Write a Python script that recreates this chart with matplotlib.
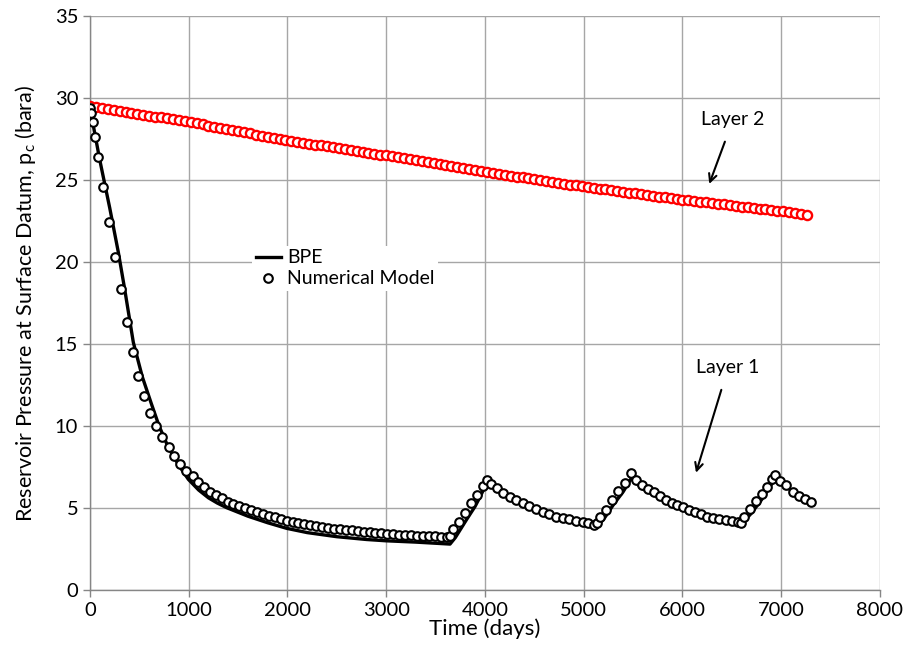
import matplotlib
matplotlib.use('Agg')
import matplotlib.pyplot as plt
import numpy as np

plt.rcParams['font.family'] = ['Lato', 'DejaVu Sans']
plt.rcParams['mathtext.default'] = 'regular'

# Layer 1 - BPE (line)
bpe1_t = [0, 100, 200, 287, 350, 439, 530, 625, 700, 793, 900, 996, 1100, 1200, 1290,
          1384, 1600, 1800, 1992, 2200, 2500, 2800, 3000, 3300, 3646, 3700, 3814,
          3900, 3960, 4023, 4100, 4287, 4500, 4658, 4900, 5110, 5200, 5300, 5400,
          5480, 5600, 5800, 5975, 6200, 6400, 6580, 6700, 6800, 6940, 7050, 7150, 7300]
bpe1_p = [29.4, 26.2, 23.3, 20.6, 18.4, 15.1, 13.0, 11.3, 10.0, 8.7, 7.6, 6.75, 6.1, 5.62, 5.3,
          5.02, 4.5, 4.1, 3.76, 3.5, 3.25, 3.08, 3.0, 2.92, 2.8, 3.2, 4.3,
          5.1, 5.8, 6.6, 6.2, 5.5, 4.85, 4.47, 4.1, 3.8, 4.3, 5.2, 6.0,
          6.8, 6.15, 5.5, 5.08, 4.6, 4.2, 3.9, 4.7, 5.5, 6.8, 6.3, 5.85, 5.3]

# Layer 1 - numerical model (circles)
num1_t = [0, 10, 34, 51, 78, 135, 192, 253, 314, 371, 432, 490, 547, 611, 668, 732,
          800, 854, 911, 972, 1040, 1097, 1158, 1215, 1276, 1333, 1394, 1451, 1511,
          1571, 1631, 1691, 1751, 1811, 1871, 1931, 1991, 2051, 2111, 2171, 2231,
          2291, 2351, 2411, 2471, 2531, 2591, 2651, 2711, 2771, 2831, 2891, 2951,
          3011, 3071, 3131, 3191, 3251, 3311, 3371, 3431, 3491, 3551, 3611, 3650,
          3680, 3740, 3797, 3858, 3922, 3983, 4017, 4057, 4118, 4186, 4253, 4314,
          4382, 4449, 4516, 4584, 4651, 4719, 4787, 4854, 4922, 4989, 5046, 5100,
          5130, 5165, 5225, 5283, 5350, 5420, 5480, 5529, 5587, 5654, 5715, 5772,
          5833, 5890, 5947, 6008, 6069, 6127, 6187, 6251, 6312, 6373, 6440, 6498,
          6565, 6590, 6623, 6684, 6744, 6802, 6853, 6903, 6937, 6987, 7048, 7116,
          7180, 7241, 7298]
num1_p = [29.4, 29.07, 28.55, 27.64, 26.42, 24.55, 22.42, 20.3, 18.33, 16.36, 14.49,
          13.05, 11.85, 10.81, 10.0, 9.35, 8.74, 8.19, 7.68, 7.28, 6.95, 6.6, 6.3,
          6.0, 5.79, 5.59, 5.39, 5.24, 5.1, 4.97, 4.85, 4.74, 4.63, 4.53, 4.43,
          4.33, 4.23, 4.15, 4.08, 4.01, 3.95, 3.89, 3.84, 3.79, 3.75, 3.71, 3.67,
          3.63, 3.59, 3.56, 3.52, 3.49, 3.45, 3.43, 3.40, 3.38, 3.36, 3.34, 3.32,
          3.31, 3.29, 3.28, 3.26, 3.25, 3.28, 3.7, 4.17, 4.67, 5.28, 5.79, 6.34,
          6.7, 6.46, 6.2, 5.93, 5.69, 5.49, 5.32, 5.12, 4.94, 4.78, 4.62, 4.47,
          4.37, 4.31, 4.23, 4.17, 4.1, 3.95, 4.1, 4.47, 4.88, 5.49, 6.04, 6.54,
          7.12, 6.7, 6.4, 6.16, 6.0, 5.73, 5.49, 5.32, 5.18, 5.04, 4.88, 4.76,
          4.62, 4.47, 4.41, 4.33, 4.27, 4.21, 4.17, 4.07, 4.47, 4.92, 5.43, 5.85,
          6.3, 6.75, 7.0, 6.65, 6.4, 6.0, 5.73, 5.55, 5.35]

# Layer 2 - BPE (line)
bpe2_t = [0, 1000, 2000, 3000, 4000, 5000, 6000, 7000, 7300]
bpe2_p = [29.5, 28.55, 27.4, 26.5, 25.5, 24.6, 23.8, 23.1, 22.8]

# Layer 2 - numerical model (circles), one every 60 days
num2_t = np.arange(0, 7261, 60)
num2_p = [29.50, 29.45, 29.39, 29.33, 29.27, 29.22, 29.16, 29.10, 29.04, 28.99, 28.93,
          28.87, 28.82, 28.76, 28.70, 28.64, 28.59,
          28.53, 28.46, 28.39, 28.32, 28.25, 28.18, 28.11, 28.05, 27.98, 27.91,
          27.84, 27.77, 27.70, 27.63, 27.56, 27.49, 27.42,
          27.38, 27.32, 27.27, 27.21, 27.16, 27.11, 27.05, 27.00, 26.94, 26.89,
          26.83, 26.78, 26.72, 26.66, 26.61, 26.55,
          26.50, 26.44, 26.38, 26.32, 26.26, 26.20, 26.14, 26.08, 26.02, 25.96,
          25.90, 25.84, 25.78, 25.72, 25.66, 25.60, 25.54,
          25.49, 25.43, 25.38, 25.32, 25.27, 25.21, 25.16, 25.10, 25.05, 25.00,
          24.94, 24.89, 24.83, 24.78, 24.72, 24.67, 24.61,
          24.58, 24.53, 24.48, 24.43, 24.38, 24.33, 24.28, 24.23, 24.18, 24.14,
          24.09, 24.04, 23.99, 23.94, 23.90, 23.85,
          23.80, 23.76, 23.72, 23.67, 23.63, 23.59, 23.55, 23.51, 23.46, 23.42,
          23.38, 23.34, 23.30, 23.25, 23.21, 23.17, 23.13,
          23.08, 23.02, 22.96, 22.90, 22.84]

fig = plt.figure(figsize=(9.06, 6.66), dpi=100)
ax = fig.add_axes([0.0993, 0.1141, 0.8720, 0.8619])

ax.plot(bpe2_t, bpe2_p, color='red', lw=2.2, zorder=3)
ax.plot(num2_t, num2_p, 'o', mfc='white', mec='red', ms=6.6, mew=1.7, zorder=4)

ax.plot(bpe1_t, bpe1_p, color='black', lw=2.4, zorder=3, label='BPE')
ax.plot(num1_t, num1_p, 'o', mfc='white', mec='black', ms=6.2, mew=1.5, zorder=4,
        label='Numerical Model')

ax.set_xlim(0, 8000)
ax.set_ylim(0, 35)
ax.set_xticks(np.arange(0, 8001, 1000))
ax.set_yticks(np.arange(0, 36, 5))
ax.grid(True, color='#a6a6a6', lw=1.0)
ax.set_axisbelow(True)
for s in ['top', 'right']:
    ax.spines[s].set_visible(False)
for s in ['left', 'bottom']:
    ax.spines[s].set_color('#868686')
    ax.spines[s].set_linewidth(1.0)
ax.tick_params(axis='both', colors='#868686', labelcolor='black', labelsize=14.5,
               length=5, width=1.0)

ax.set_xlabel('Time (days)', fontsize=16, labelpad=0)
ax.set_ylabel('Reservoir Pressure at Surface Datum, p$_c$ (bara)', fontsize=15.5,
              labelpad=12)

leg = ax.legend(loc='upper left', bbox_to_anchor=(0.205, 0.6), frameon=True,
                fontsize=14, handlelength=1.3, handletextpad=0.3, borderpad=0.2,
                labelspacing=0.2, borderaxespad=0)
leg.get_frame().set_edgecolor('none')
leg.get_frame().set_facecolor('white')
leg.get_frame().set_alpha(1)
leg.set_zorder(5)

ax.annotate('Layer 2', xy=(6271, 24.76), xytext=(6511, 28.66), fontsize=14,
            ha='center', va='center',
            arrowprops=dict(arrowstyle='->', color='black', lw=1.5,
                            shrinkA=8, shrinkB=0))
ax.annotate('Layer 1', xy=(6137, 7.15), xytext=(6461, 13.54), fontsize=14,
            ha='center', va='center',
            arrowprops=dict(arrowstyle='->', color='black', lw=1.5,
                            shrinkA=8, shrinkB=0))

fig.savefig('out.png', dpi=100)
